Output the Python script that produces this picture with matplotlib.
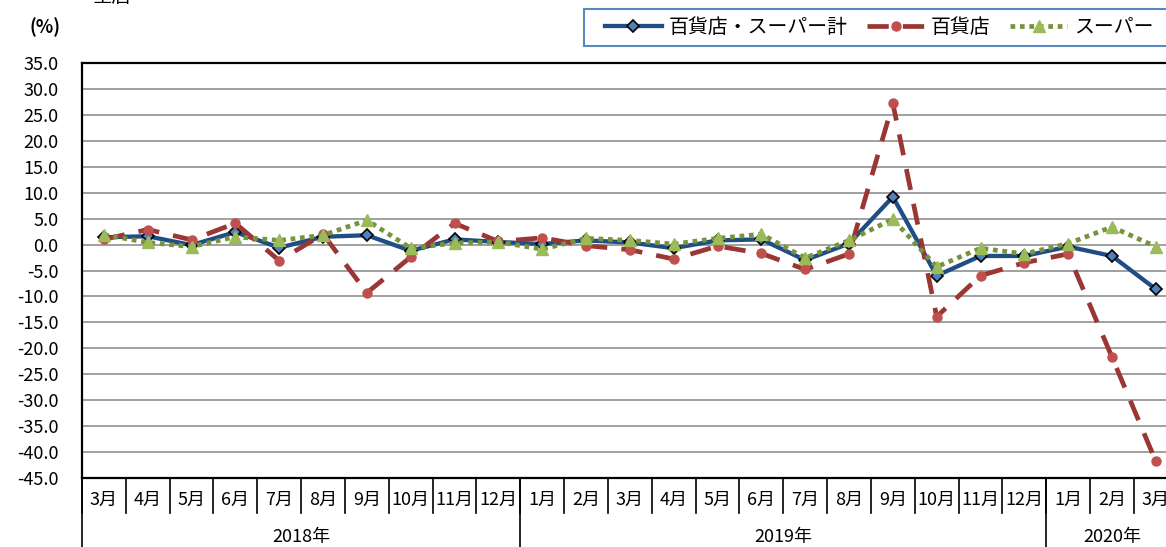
import matplotlib
matplotlib.use("Agg")
import matplotlib.pyplot as plt
from matplotlib.patches import Rectangle

plt.rcParams['font.family'] = ['Noto Sans CJK JP', 'DejaVu Sans']

# ---- data ----
months = ["3月", "4月", "5月", "6月", "7月", "8月", "9月", "10月", "11月", "12月",
          "1月", "2月", "3月", "4月", "5月", "6月", "7月", "8月", "9月", "10月", "11月", "12月",
          "1月", "2月", "3月"]
years = ["2018年", "2019年", "2020年"]
year_counts = [10, 12, 3]

total = [1.4, 1.6, -0.1, 2.4, -0.6, 1.5, 1.8, -1.2, 1.0, 0.5,
         0.1, 0.8, 0.4, -0.7, 0.8, 1.0, -3.0, 0.2, 9.2, -6.0, -2.2, -2.2,
         -0.4, -2.2, -8.6]
dept = [1.0, 2.9, 0.9, 4.1, -3.1, 2.0, -9.3, -2.4, 4.1, 0.6,
        1.3, -0.2, -1.0, -2.8, -0.3, -1.7, -4.8, -1.8, 27.2, -13.9, -6.0, -3.5,
        -1.8, -21.7, -41.8]
super_ = [1.9, 0.4, -0.4, 1.5, 0.8, 1.8, 4.7, -0.7, 0.3, 0.5,
          -0.9, 1.2, 0.8, 0.1, 1.2, 2.0, -2.6, 0.8, 4.9, -4.3, -0.7, -1.8,
          0.2, 3.4, -0.4]
labels = ["百貨店・スーパー計", "百貨店", "スーパー"]
yticks = [35.0, 30.0, 25.0, 20.0, 15.0, 10.0, 5.0, 0.0, -5.0, -10.0, -15.0,
          -20.0, -25.0, -30.0, -35.0, -40.0, -45.0]

W, H = 1166, 547
fig = plt.figure(figsize=(W / 100, H / 100), dpi=100)
fig.patch.set_facecolor('white')

ax_left, ax_top, ax_bottom = 82, 63, 478
cat_w = 43.83
n = len(months)
ax = fig.add_axes([ax_left / W, (H - ax_bottom) / H, n * cat_w / W, (ax_bottom - ax_top) / H])

x = list(range(n))
l1, = ax.plot(x, total, color='#1F4E85', lw=3.1, marker='D', markersize=6.5,
              markerfacecolor='#4F81BD', markeredgecolor='black', markeredgewidth=1.2,
              zorder=3, label=labels[0])
l2, = ax.plot(x, dept, color='#9A3735', lw=3.4, linestyle=(0, (4.5, 3.0)),
              marker='o', markersize=6.5, markerfacecolor='#C0504D', markeredgecolor='#C0504D',
              dash_capstyle='butt', zorder=4, label=labels[1])
l3, = ax.plot(x, super_, color='#77933C', lw=3.4, linestyle=(0, (1.0, 1.0)),
              marker='^', markersize=8.5, markerfacecolor='#9BBB59', markeredgecolor='#9BBB59',
              dash_capstyle='butt', zorder=5, label=labels[2])

ax.set_xlim(-0.5, n - 0.5)
ax.set_ylim(-45, 35)
ax.set_yticks(yticks)
ax.set_yticklabels([f"{v:.1f}" for v in yticks], fontsize=13)
ax.tick_params(axis='y', length=0, pad=17)
ax.set_xticks([])
ax.grid(axis='y', color='#A0A0A0', lw=1.4, zorder=0)
ax.set_axisbelow(True)
for s in ['left', 'top', 'bottom', 'right']:
    ax.spines[s].set_color('black')
    ax.spines[s].set_linewidth(1.6)

trans = ax.get_xaxis_transform()
ph = ax_bottom - ax_top
sep_short = -(513 - ax_bottom) / ph
sep_long = -(560 - ax_bottom) / ph
# month separators
for i in range(n + 1):
    ax.plot([i - 0.5, i - 0.5], [0, sep_short], transform=trans, color='black',
            lw=1.2, clip_on=False)
# year separators
pos = -0.5
bounds = [pos]
for c in year_counts:
    pos += c
    bounds.append(pos)
for b in bounds:
    ax.plot([b, b], [0, sep_long], transform=trans, color='black', lw=1.2, clip_on=False)
# month labels
for i, m in enumerate(months):
    ax.text(i, -(500 - ax_bottom) / ph, m, transform=trans, ha='center', va='center',
            fontsize=13)
# year labels
for k, yl in enumerate(years):
    ax.text((bounds[k] + bounds[k + 1]) / 2, -(537 - ax_bottom) / ph, yl, transform=trans,
            ha='center', va='center', fontsize=13)

# unit label and cut title
fig.text(45 / W, 1 - 27 / H, "(%)", ha='center', va='center', fontsize=13, fontweight='bold')
fig.text(92 / W, 1 - 1.5 / H, "全店", ha='left', va='baseline', fontsize=14)

# legend frame (extends beyond the right edge)
frame = Rectangle((584 / W, 1 - 46 / H), 700 / W, 37 / H, transform=fig.transFigure,
                  facecolor='white', edgecolor='#5B87C0', lw=1.5, zorder=1)
fig.add_artist(frame)
leg = fig.legend([l1, l2, l3], labels, loc='center left',
                 bbox_to_anchor=(605 / W, 1 - 27.5 / H), ncol=3, frameon=False,
                 borderpad=0, borderaxespad=0, handlelength=2.85, handletextpad=0.35,
                 columnspacing=1.0, fontsize=14.3, numpoints=1)
leg.set_zorder(6)

fig.savefig("out.png", dpi=100)
